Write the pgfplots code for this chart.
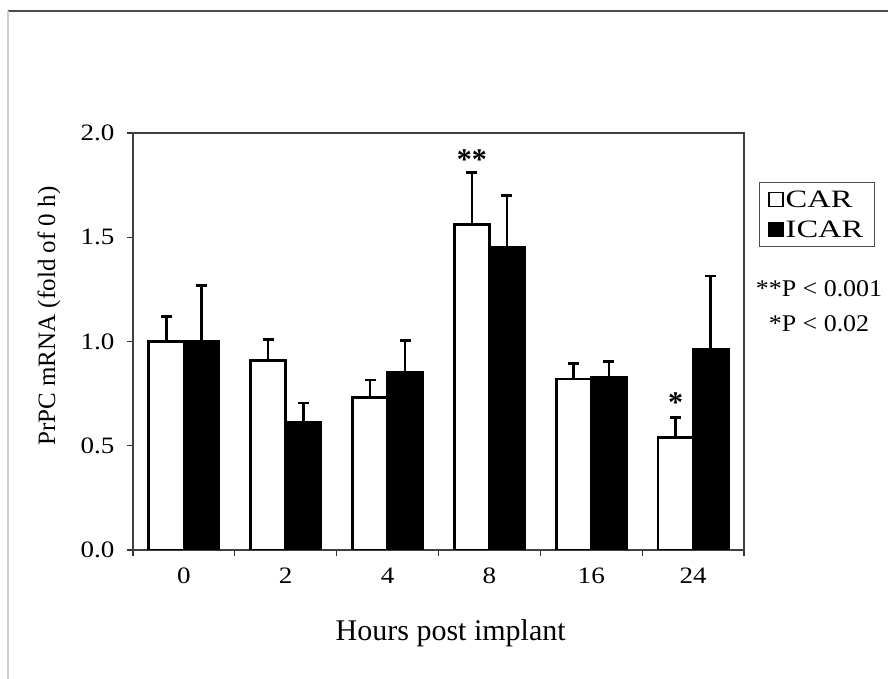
\documentclass[border=0pt]{standalone}
\usepackage{fontspec}
\setmainfont{Liberation Serif}
\newfontfamily\legfont[FakeStretch=1.3]{Liberation Serif}
\newfontfamily\pfont[FakeStretch=1.08]{Liberation Serif}
\newfontfamily\tickfont[FakeStretch=1.15]{Liberation Serif}
\usepackage{pgfplots}
\pgfplotsset{compat=1.18}

\begin{document}
\begin{tikzpicture}[x=1pt,y=1pt]
\path[use as bounding box] (0,0) rectangle (888,679);
% page frame lines
\draw[color=black!70, line width=1.5pt] (8,668) -- (888,668);
\draw[color=black!20, line width=1.5pt] (8,668) -- (8,0);

\begin{axis}[
    at={(133pt,129pt)}, anchor=south west,
    scale only axis,
    width=611pt, height=417pt,
    clip mode=individual,
    ybar, bar width=0.345,
    xmin=-0.5, xmax=5.5,
    ymin=0, ymax=2,
    xtick={0,...,5},
    xticklabels={0,2,4,8,16,24},
    minor xtick={-0.5,0.5,...,5.5},
    major x tick style={draw=none},
    ytick={0,0.5,...,2},
    xtick pos=bottom, ytick pos=left,
    tick align=outside,
    major tick length=6pt, minor tick length=6pt,
    tick style={color=black!80, line width=1.1pt},
    axis line style={color=black!75, line width=1.2pt},
    yticklabel style={xshift=-9pt, /pgf/number format/fixed, /pgf/number format/fixed zerofill, /pgf/number format/precision=1},
    /pgf/number format/assume math mode=true,
    ticklabel style={font=\tickfont\fontsize{23.5}{26}\selectfont},
    xticklabel style={yshift=-8pt},
    xlabel={Hours post implant},
    ylabel={PrPC mRNA (fold of 0 h)},
    xlabel style={font=\fontsize{30}{34}\selectfont, at={(axis description cs:0.520,-0.199)}, anchor=center},
    ylabel style={font=\fontsize{25}{28}\selectfont, at={(axis description cs:-0.1375,0.561)}, anchor=center},
    legend style={at={(rel axis cs:1.0245,0.8825)}, anchor=north west,
        draw=black!70, line width=1pt,
        font=\legfont\fontsize{25}{29}\selectfont,
        inner xsep=9pt, inner ysep=6pt,
        row sep=8pt},
    legend cell align=left,
    error bars/y dir=plus,
    error bars/y explicit,
    error bars/error bar style={line width=2.6pt, black},
    error bars/error mark options={rotate=90, line width=2.6pt, mark size=5.5pt, black},
]

% CAR
\addplot[draw=black, fill=white, line width=2.8pt, bar shift=-0.1725,
    legend image code/.code={\draw[line width=1.2pt, fill=white] (0pt,-7pt) rectangle (14pt,7pt);}]
coordinates {
    (0,1.00) +- (0,0.12)
    (1,0.91) +- (0,0.10)
    (2,0.73) +- (0,0.085)
    (3,1.56) +- (0,0.25)
    (4,0.82) +- (0,0.075)
    (5,0.54) +- (0,0.095)
};
\addlegendentry{CAR}

% ICAR
\addplot[draw=black, fill=black, line width=2.8pt, bar shift=0.1725,
    legend image code/.code={\draw[line width=1.2pt, fill=black] (0pt,-7pt) rectangle (14pt,7pt);}]
coordinates {
    (0,1.00) +- (0,0.27)
    (1,0.61) +- (0,0.095)
    (2,0.85) +- (0,0.155)
    (3,1.45) +- (0,0.25)
    (4,0.83) +- (0,0.075)
    (5,0.96) +- (0,0.355)
};
\addlegendentry{ICAR}

\node[font=\bfseries\fontsize{30}{32}\selectfont] at (axis cs:2.8275,1.87) {**};
\node[font=\bfseries\fontsize{30}{32}\selectfont] at (axis cs:4.8275,0.705) {*};
\node[font=\pfont\fontsize{24}{28}\selectfont] at (rel axis cs:1.1228,0.626) {**P < 0.001};
\node[font=\pfont\fontsize{24}{28}\selectfont] at (rel axis cs:1.1228,0.542) {*P < 0.02};
\end{axis}
\end{tikzpicture}
\end{document}
